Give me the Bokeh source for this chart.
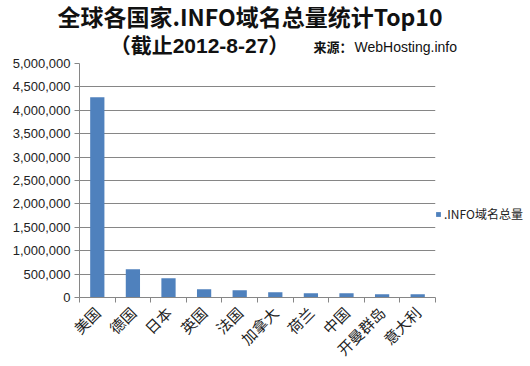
from bokeh.plotting import figure
from bokeh.models import (ColumnDataSource, FixedTicker, NumeralTickFormatter, Range1d,
                          Legend, LegendItem, Title)
from bokeh.layouts import column
from bokeh.core.properties import value
from bokeh.embed import file_html
from bokeh.resources import INLINE

countries = ["美国", "德国", "日本", "英国", "法国", "加拿大", "荷兰", "中国", "开曼群岛", "意大利"]
values = [4280000, 605000, 410000, 177000, 155000, 112000, 92000, 92000, 70000, 68000]
series_name = ".INFO域名总量"
title_text = "全球各国家.INFO域名总量统计Top10"
subtitle_text = "（截止2012-8-27）"
source_label = "来源："
source_site = "WebHosting.info"
y_ticks = list(range(0, 5000001, 500000))

# ---- header; its frame maps canvas pixels x 79..530, y 29..56 ----
head = figure(frame_width=451, frame_height=27, output_backend="svg", toolbar_location=None,
              x_range=Range1d(79, 530), y_range=Range1d(56, 29),
              x_axis_type=None, y_axis_type=None,
              min_border_left=79, min_border_right=0, min_border_top=29, min_border_bottom=0)
head.title = None
head.outline_line_color = None
head.xgrid.grid_line_color = None
head.ygrid.grid_line_color = None
head.add_layout(Title(text=title_text, align="left", offset=-22, vertical_align="middle",
                      standoff=-6, text_font="Noto Sans CJK SC", text_font_size="23px",
                      text_font_style="bold", text_color="#111111"), "above")
head.text(x=[199], y=[44], text=[subtitle_text], text_align="center", text_baseline="middle",
          text_font=value("Liberation Sans, Noto Sans CJK SC"), text_font_size="21px",
          text_font_style="bold", text_color="#111111")
head.text(x=[313], y=[45], text=[source_label], text_align="left", text_baseline="middle",
          text_font=value("Noto Sans CJK SC"), text_font_size="13px",
          text_font_style="bold", text_color="#111111")
head.text(x=[354], y=[45], text=[source_site], text_align="left", text_baseline="middle",
          text_font=value("Liberation Sans"), text_font_size="14px",
          text_color="#111111")

# ---- chart ----
xs = [i + 0.5 for i in range(len(countries))]
src = ColumnDataSource(dict(x=xs, top=values, name=countries))

p = figure(frame_width=356, frame_height=234, output_backend="svg", toolbar_location=None,
           x_range=Range1d(0, len(countries)), y_range=Range1d(0, 5000000),
           min_border_left=79, min_border_right=95, min_border_top=6, min_border_bottom=70)
p.title = None
r = p.vbar(x="x", top="top", width=0.4, source=src, fill_color="#4F81BD", line_color=None)

p.outline_line_color = None
p.background_fill_color = "white"
p.border_fill_color = "white"

p.xgrid.grid_line_color = None
p.ygrid.grid_line_color = "#868686"
p.ygrid.ticker = FixedTicker(ticks=y_ticks)

p.yaxis.ticker = FixedTicker(ticks=y_ticks)
p.yaxis.formatter = NumeralTickFormatter(format="0,0")
p.yaxis.axis_line_color = "#868686"
p.yaxis.major_tick_line_color = "#868686"
p.yaxis.major_tick_out = 5
p.yaxis.major_tick_in = 0
p.yaxis.minor_tick_line_color = None
p.yaxis.major_label_text_font = "Liberation Sans"
p.yaxis.major_label_text_font_size = "13px"
p.yaxis.major_label_text_color = "#222222"
p.yaxis.major_label_standoff = 4

p.xaxis.ticker = FixedTicker(ticks=xs, minor_ticks=list(range(len(countries) + 1)))
p.xaxis.major_label_overrides = {x: c for x, c in zip(xs, countries)}
p.xaxis.major_tick_line_color = None
p.xaxis.minor_tick_line_color = "#868686"
p.xaxis.minor_tick_out = 5
p.xaxis.minor_tick_in = 0
p.xaxis.axis_line_color = "#868686"
p.xaxis.major_label_orientation = 0.785
p.xaxis.major_label_text_font = "Noto Sans CJK SC"
p.xaxis.major_label_text_font_size = "15px"
p.xaxis.major_label_text_color = "#222222"
p.xaxis.major_label_standoff = 6

legend = Legend(items=[LegendItem(label=series_name, renderers=[r])],
                location=(0, 75), padding=0, margin=0, spacing=0,
                glyph_width=6, glyph_height=6, label_height=12, label_standoff=3,
                border_line_color=None, background_fill_alpha=0,
                label_text_font="Noto Sans CJK SC", label_text_font_size="12px",
                label_text_color="#222222")
p.add_layout(legend, "right")

layout = column(head, p, spacing=0)
open("out.html", "w").write(file_html(layout, INLINE))
